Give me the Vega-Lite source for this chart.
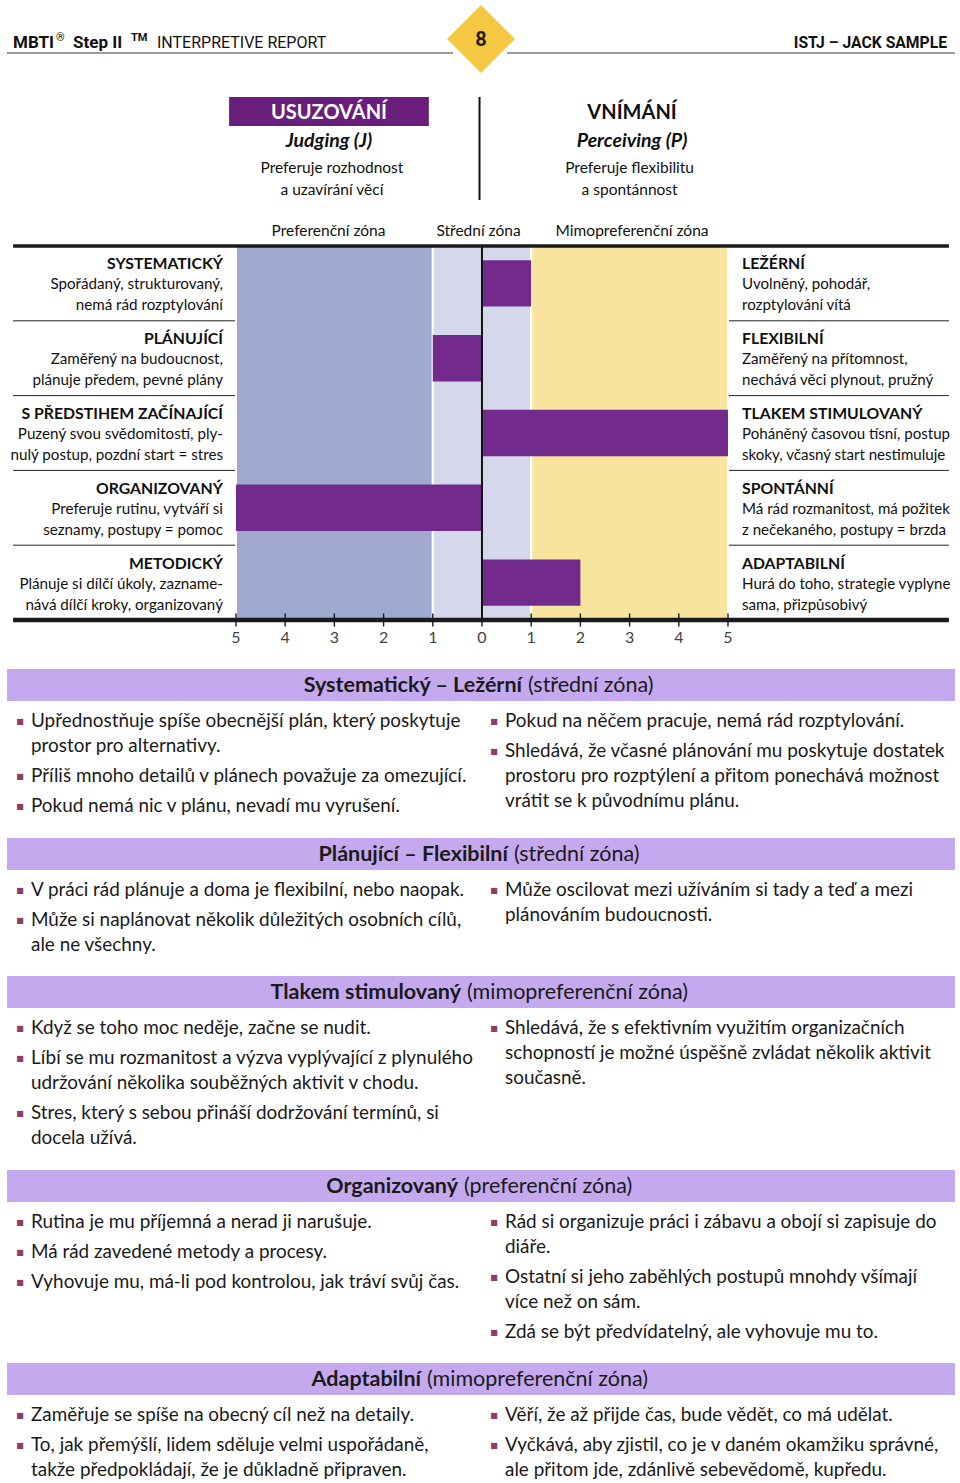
{
"$schema": "https://vega.github.io/schema/vega-lite/v6.json",
"background": "#ffffff",
"padding": {"left": 6, "right": 6, "top": 0, "bottom": 0},
"spacing": 0,
"bounds": "flush",
"config": {"view": {"stroke": null}, "text": {"font": "Lato", "color": "#1a1a1a"}},
"datasets": {
 "header": [
  {"part": "mbti", "text": "MBTI"},
  {"part": "reg", "text": "®"},
  {"part": "step", "text": "Step II"},
  {"part": "tm", "text": "TM"},
  {"part": "report", "text": "INTERPRETIVE REPORT"},
  {"part": "name", "text": "ISTJ – JACK SAMPLE"},
  {"part": "page", "text": "8"}
 ],
 "heads": [
  {"side": "J", "title": "USUZOVÁNÍ", "latin": "Judging (J)", "d1": "Preferuje rozhodnost", "d2": "a uzavírání věcí"},
  {"side": "P", "title": "VNÍMÁNÍ", "latin": "Perceiving (P)", "d1": "Preferuje flexibilitu", "d2": "a spontánnost"}
 ],
 "zones": [
  {"from": -5, "to": -1, "zone": "Preferenční zóna"},
  {"from": -1, "to": 0, "zone": "Střední zóna"},
  {"from": 0, "to": 1, "zone": "Střední zóna"},
  {"from": 1, "to": 5, "zone": "Mimopreferenční zóna"}
 ],
 "ticks": [
  {"v": -5, "label": "5"}, {"v": -4, "label": "4"}, {"v": -3, "label": "3"}, {"v": -2, "label": "2"}, {"v": -1, "label": "1"},
  {"v": 0, "label": "0"},
  {"v": 1, "label": "1"}, {"v": 2, "label": "2"}, {"v": 3, "label": "3"}, {"v": 4, "label": "4"}, {"v": 5, "label": "5"}
 ],
 "rows": [
  {"idx": 1, "left": "SYSTEMATICKÝ", "l1": "Spořádaný, strukturovaný,", "l2": "nemá rád rozptylování", "right": "LEŽÉRNÍ", "r1": "Uvolněný, pohodář,", "r2": "rozptylování vítá", "score": 1},
  {"idx": 2, "left": "PLÁNUJÍCÍ", "l1": "Zaměřený na budoucnost,", "l2": "plánuje předem, pevné plány", "right": "FLEXIBILNÍ", "r1": "Zaměřený na přítomnost,", "r2": "nechává věci plynout, pružný", "score": -1},
  {"idx": 3, "left": "S PŘEDSTIHEM ZAČÍNAJÍCÍ", "l1": "Puzený svou svědomitostí, ply-", "l2": "nulý postup, pozdní start = stres", "right": "TLAKEM STIMULOVANÝ", "r1": "Poháněný časovou tísní, postup", "r2": "skoky, včasný start nestimuluje", "score": 5},
  {"idx": 4, "left": "ORGANIZOVANÝ", "l1": "Preferuje rutinu, vytváří si", "l2": "seznamy, postupy = pomoc", "right": "SPONTÁNNÍ", "r1": "Má rád rozmanitost, má požitek", "r2": "z nečekaného, postupy = brzda", "score": -5},
  {"idx": 5, "left": "METODICKÝ", "l1": "Plánuje si dílčí úkoly, zazname-", "l2": "nává dílčí kroky, organizovaný", "right": "ADAPTABILNÍ", "r1": "Hurá do toho, strategie vyplyne", "r2": "sama, přizpůsobivý", "score": 2}
 ],
 "titles": [
  {"sec": 1, "bold": "Systematický – Ležérní", "rest": "(střední zóna)"},
  {"sec": 2, "bold": "Plánující – Flexibilní", "rest": "(střední zóna)"},
  {"sec": 3, "bold": "Tlakem stimulovaný", "rest": "(mimopreferenční zóna)"},
  {"sec": 4, "bold": "Organizovaný", "rest": "(preferenční zóna)"},
  {"sec": 5, "bold": "Adaptabilní", "rest": "(mimopreferenční zóna)"}
 ],
 "body": [
  {"sec": 1, "col": "L", "line": 0, "para": 0, "bullet": true, "text": "Upřednostňuje spíše obecnější plán, který poskytuje"},
  {"sec": 1, "col": "L", "line": 1, "para": 0, "bullet": false, "text": "prostor pro alternativy."},
  {"sec": 1, "col": "L", "line": 2, "para": 1, "bullet": true, "text": "Příliš mnoho detailů v plánech považuje za omezující."},
  {"sec": 1, "col": "L", "line": 3, "para": 2, "bullet": true, "text": "Pokud nemá nic v plánu, nevadí mu vyrušení."},
  {"sec": 1, "col": "R", "line": 0, "para": 0, "bullet": true, "text": "Pokud na něčem pracuje, nemá rád rozptylování."},
  {"sec": 1, "col": "R", "line": 1, "para": 1, "bullet": true, "text": "Shledává, že včasné plánování mu poskytuje dostatek"},
  {"sec": 1, "col": "R", "line": 2, "para": 1, "bullet": false, "text": "prostoru pro rozptýlení a přitom ponechává možnost"},
  {"sec": 1, "col": "R", "line": 3, "para": 1, "bullet": false, "text": "vrátit se k původnímu plánu."},
  {"sec": 2, "col": "L", "line": 0, "para": 0, "bullet": true, "text": "V práci rád plánuje a doma je flexibilní, nebo naopak."},
  {"sec": 2, "col": "L", "line": 1, "para": 1, "bullet": true, "text": "Může si naplánovat několik důležitých osobních cílů,"},
  {"sec": 2, "col": "L", "line": 2, "para": 1, "bullet": false, "text": "ale ne všechny."},
  {"sec": 2, "col": "R", "line": 0, "para": 0, "bullet": true, "text": "Může oscilovat mezi užíváním si tady a teď a mezi"},
  {"sec": 2, "col": "R", "line": 1, "para": 0, "bullet": false, "text": "plánováním budoucnosti."},
  {"sec": 3, "col": "L", "line": 0, "para": 0, "bullet": true, "text": "Když se toho moc neděje, začne se nudit."},
  {"sec": 3, "col": "L", "line": 1, "para": 1, "bullet": true, "text": "Líbí se mu rozmanitost a výzva vyplývající z plynulého"},
  {"sec": 3, "col": "L", "line": 2, "para": 1, "bullet": false, "text": "udržování několika souběžných aktivit v chodu."},
  {"sec": 3, "col": "L", "line": 3, "para": 2, "bullet": true, "text": "Stres, který s sebou přináší dodržování termínů, si"},
  {"sec": 3, "col": "L", "line": 4, "para": 2, "bullet": false, "text": "docela užívá."},
  {"sec": 3, "col": "R", "line": 0, "para": 0, "bullet": true, "text": "Shledává, že s efektivním využitím organizačních"},
  {"sec": 3, "col": "R", "line": 1, "para": 0, "bullet": false, "text": "schopností je možné úspěšně zvládat několik aktivit"},
  {"sec": 3, "col": "R", "line": 2, "para": 0, "bullet": false, "text": "současně."},
  {"sec": 4, "col": "L", "line": 0, "para": 0, "bullet": true, "text": "Rutina je mu příjemná a nerad ji narušuje."},
  {"sec": 4, "col": "L", "line": 1, "para": 1, "bullet": true, "text": "Má rád zavedené metody a procesy."},
  {"sec": 4, "col": "L", "line": 2, "para": 2, "bullet": true, "text": "Vyhovuje mu, má-li pod kontrolou, jak tráví svůj čas."},
  {"sec": 4, "col": "R", "line": 0, "para": 0, "bullet": true, "text": "Rád si organizuje práci i zábavu a obojí si zapisuje do"},
  {"sec": 4, "col": "R", "line": 1, "para": 0, "bullet": false, "text": "diáře."},
  {"sec": 4, "col": "R", "line": 2, "para": 1, "bullet": true, "text": "Ostatní si jeho zaběhlých postupů mnohdy všímají"},
  {"sec": 4, "col": "R", "line": 3, "para": 1, "bullet": false, "text": "více než on sám."},
  {"sec": 4, "col": "R", "line": 4, "para": 2, "bullet": true, "text": "Zdá se být předvídatelný, ale vyhovuje mu to."},
  {"sec": 5, "col": "L", "line": 0, "para": 0, "bullet": true, "text": "Zaměřuje se spíše na obecný cíl než na detaily."},
  {"sec": 5, "col": "L", "line": 1, "para": 1, "bullet": true, "text": "To, jak přemýšlí, lidem sděluje velmi uspořádaně,"},
  {"sec": 5, "col": "L", "line": 2, "para": 1, "bullet": false, "text": "takže předpokládají, že je důkladně připraven."},
  {"sec": 5, "col": "R", "line": 0, "para": 0, "bullet": true, "text": "Věří, že až přijde čas, bude vědět, co má udělat."},
  {"sec": 5, "col": "R", "line": 1, "para": 1, "bullet": true, "text": "Vyčkává, aby zjistil, co je v daném okamžiku správné,"},
  {"sec": 5, "col": "R", "line": 2, "para": 1, "bullet": false, "text": "ale přitom jde, zdánlivě sebevědomě, kupředu."}
 ]
},
"vconcat": [
 {
  "width": 948, "height": 62,
  "data": {"name": "header"},
  "layer": [
   {"transform": [{"filter": "datum.part == 'page'"}], "mark": {"type": "rule", "color": "#3a3a3a", "strokeWidth": 1},
    "encoding": {"x": {"datum": 0, "type": "quantitative", "scale": {"domain": [0, 1], "nice": false, "zero": false}, "axis": null}, "x2": {"datum": 0.4705},
     "y": {"datum": 0.855, "type": "quantitative", "scale": {"domain": [0, 1], "nice": false, "zero": false, "reverse": true}, "axis": null}}},
   {"transform": [{"filter": "datum.part == 'page'"}], "mark": {"type": "rule", "color": "#3a3a3a", "strokeWidth": 1},
    "encoding": {"x": {"datum": 0.5274, "type": "quantitative", "scale": {"domain": [0, 1], "nice": false, "zero": false}, "axis": null}, "x2": {"datum": 1},
     "y": {"datum": 0.855, "type": "quantitative", "scale": {"domain": [0, 1], "nice": false, "zero": false, "reverse": true}, "axis": null}}},
   {"transform": [{"filter": "datum.part == 'page'"}], "mark": {"type": "point", "shape": "diamond", "filled": true, "color": "#f4c843", "size": 4624, "opacity": 1},
    "encoding": {"y": {"datum": 0.629, "type": "quantitative", "scale": {"domain": [0, 1], "nice": false, "zero": false, "reverse": true}, "axis": null}}},
   {"transform": [{"filter": "datum.part == 'page'"}], "mark": {"type": "text", "font": "Roboto", "fontWeight": "bold", "fontSize": 20, "color": "#222222", "baseline": "alphabetic", "align": "center"},
    "encoding": {"text": {"field": "text"}, "y": {"datum": 0.745, "type": "quantitative", "scale": {"domain": [0, 1], "nice": false, "zero": false, "reverse": true}, "axis": null}}},
   {"transform": [{"filter": "datum.part == 'mbti'"}], "mark": {"type": "text", "align": "left", "baseline": "alphabetic", "font": "Roboto", "fontWeight": "bold", "fontSize": 17, "dx": 6, "color": "#111111"},
    "encoding": {"text": {"field": "text"}, "x": {"datum": 0, "type": "quantitative", "scale": {"domain": [0, 1], "nice": false, "zero": false}, "axis": null},
     "y": {"datum": 0.774, "type": "quantitative", "scale": {"domain": [0, 1], "nice": false, "zero": false, "reverse": true}, "axis": null}}},
   {"transform": [{"filter": "datum.part == 'reg'"}], "mark": {"type": "text", "align": "left", "baseline": "alphabetic", "font": "Roboto", "fontSize": 11, "dx": 49, "color": "#111111"},
    "encoding": {"text": {"field": "text"}, "x": {"datum": 0, "type": "quantitative", "scale": {"domain": [0, 1], "nice": false, "zero": false}, "axis": null},
     "y": {"datum": 0.66, "type": "quantitative", "scale": {"domain": [0, 1], "nice": false, "zero": false, "reverse": true}, "axis": null}}},
   {"transform": [{"filter": "datum.part == 'step'"}], "mark": {"type": "text", "align": "left", "baseline": "alphabetic", "font": "Roboto", "fontWeight": "bold", "fontSize": 17, "dx": 66, "color": "#111111"},
    "encoding": {"text": {"field": "text"}, "x": {"datum": 0, "type": "quantitative", "scale": {"domain": [0, 1], "nice": false, "zero": false}, "axis": null},
     "y": {"datum": 0.774, "type": "quantitative", "scale": {"domain": [0, 1], "nice": false, "zero": false, "reverse": true}, "axis": null}}},
   {"transform": [{"filter": "datum.part == 'tm'"}], "mark": {"type": "text", "align": "left", "baseline": "alphabetic", "font": "Roboto", "fontWeight": "bold", "fontSize": 11, "dx": 124, "color": "#111111"},
    "encoding": {"text": {"field": "text"}, "x": {"datum": 0, "type": "quantitative", "scale": {"domain": [0, 1], "nice": false, "zero": false}, "axis": null},
     "y": {"datum": 0.66, "type": "quantitative", "scale": {"domain": [0, 1], "nice": false, "zero": false, "reverse": true}, "axis": null}}},
   {"transform": [{"filter": "datum.part == 'report'"}], "mark": {"type": "text", "align": "left", "baseline": "alphabetic", "font": "Roboto", "fontSize": 16, "dx": 150, "color": "#111111"},
    "encoding": {"text": {"field": "text"}, "x": {"datum": 0, "type": "quantitative", "scale": {"domain": [0, 1], "nice": false, "zero": false}, "axis": null},
     "y": {"datum": 0.774, "type": "quantitative", "scale": {"domain": [0, 1], "nice": false, "zero": false, "reverse": true}, "axis": null}}},
   {"transform": [{"filter": "datum.part == 'name'"}], "mark": {"type": "text", "align": "right", "baseline": "alphabetic", "font": "Roboto", "fontWeight": "bold", "fontSize": 15.7, "dx": -8, "color": "#111111"},
    "encoding": {"text": {"field": "text"}, "x": {"datum": 1, "type": "quantitative", "scale": {"domain": [0, 1], "nice": false, "zero": false}, "axis": null},
     "y": {"datum": 0.774, "type": "quantitative", "scale": {"domain": [0, 1], "nice": false, "zero": false, "reverse": true}, "axis": null}}}
  ]
 },
 {
  "width": 948, "height": 184,
  "data": {"name": "heads"},
  "layer": [
   {"transform": [{"filter": "datum.side == 'J'"}], "mark": {"type": "rect", "color": "#6a1e7c"},
    "encoding": {"x": {"datum": -5.14, "type": "quantitative", "scale": {"domain": [-9.654, 9.614], "nice": false, "zero": false}, "axis": null}, "x2": {"datum": -1.08},
     "y": {"datum": 0.19, "type": "quantitative", "scale": {"domain": [0, 1], "nice": false, "zero": false, "reverse": true}, "axis": null}, "y2": {"datum": 0.348}}},
   {"transform": [{"filter": "datum.side == 'J'"}], "mark": {"type": "rule", "color": "#111111", "strokeWidth": 2},
    "encoding": {"x": {"datum": -0.05, "type": "quantitative", "scale": {"domain": [-9.654, 9.614], "nice": false, "zero": false}, "axis": null},
     "y": {"datum": 0.19, "type": "quantitative", "scale": {"domain": [0, 1], "nice": false, "zero": false, "reverse": true}, "axis": null}, "y2": {"datum": 0.75}}},
   {"transform": [{"filter": "datum.side == 'J'"}], "mark": {"type": "text", "align": "center", "baseline": "alphabetic", "fontWeight": "bold", "fontSize": 20, "color": "#ffffff"},
    "encoding": {"text": {"field": "title"}, "x": {"datum": -3.11, "type": "quantitative", "scale": {"domain": [-9.654, 9.614], "nice": false, "zero": false}, "axis": null},
     "y": {"datum": 0.31, "type": "quantitative", "scale": {"domain": [0, 1], "nice": false, "zero": false, "reverse": true}, "axis": null}}},
   {"transform": [{"filter": "datum.side == 'P'"}], "mark": {"type": "text", "align": "center", "baseline": "alphabetic", "fontWeight": "bold", "fontSize": 20, "color": "#111111"},
    "encoding": {"text": {"field": "title"}, "x": {"datum": 3.05, "type": "quantitative", "scale": {"domain": [-9.654, 9.614], "nice": false, "zero": false}, "axis": null},
     "y": {"datum": 0.31, "type": "quantitative", "scale": {"domain": [0, 1], "nice": false, "zero": false, "reverse": true}, "axis": null}}},
   {"transform": [{"filter": "datum.side == 'J'"}], "mark": {"type": "text", "align": "center", "baseline": "alphabetic", "fontWeight": "bold", "fontStyle": "italic", "fontSize": 19.5, "color": "#111111"},
    "encoding": {"text": {"field": "latin"}, "x": {"datum": -3.11, "type": "quantitative", "scale": {"domain": [-9.654, 9.614], "nice": false, "zero": false}, "axis": null},
     "y": {"datum": 0.462, "type": "quantitative", "scale": {"domain": [0, 1], "nice": false, "zero": false, "reverse": true}, "axis": null}}},
   {"transform": [{"filter": "datum.side == 'P'"}], "mark": {"type": "text", "align": "center", "baseline": "alphabetic", "fontWeight": "bold", "fontStyle": "italic", "fontSize": 19.5, "color": "#111111"},
    "encoding": {"text": {"field": "latin"}, "x": {"datum": 3.05, "type": "quantitative", "scale": {"domain": [-9.654, 9.614], "nice": false, "zero": false}, "axis": null},
     "y": {"datum": 0.462, "type": "quantitative", "scale": {"domain": [0, 1], "nice": false, "zero": false, "reverse": true}, "axis": null}}},
   {"transform": [{"filter": "datum.side == 'J'"}], "mark": {"type": "text", "align": "center", "baseline": "alphabetic", "fontSize": 15.5, "color": "#111111"},
    "encoding": {"text": {"field": "d1"}, "x": {"datum": -3.05, "type": "quantitative", "scale": {"domain": [-9.654, 9.614], "nice": false, "zero": false}, "axis": null},
     "y": {"datum": 0.603, "type": "quantitative", "scale": {"domain": [0, 1], "nice": false, "zero": false, "reverse": true}, "axis": null}}},
   {"transform": [{"filter": "datum.side == 'J'"}], "mark": {"type": "text", "align": "center", "baseline": "alphabetic", "fontSize": 15.5, "color": "#111111"},
    "encoding": {"text": {"field": "d2"}, "x": {"datum": -3.05, "type": "quantitative", "scale": {"domain": [-9.654, 9.614], "nice": false, "zero": false}, "axis": null},
     "y": {"datum": 0.723, "type": "quantitative", "scale": {"domain": [0, 1], "nice": false, "zero": false, "reverse": true}, "axis": null}}},
   {"transform": [{"filter": "datum.side == 'P'"}], "mark": {"type": "text", "align": "center", "baseline": "alphabetic", "fontSize": 15.5, "color": "#111111"},
    "encoding": {"text": {"field": "d1"}, "x": {"datum": 3.0, "type": "quantitative", "scale": {"domain": [-9.654, 9.614], "nice": false, "zero": false}, "axis": null},
     "y": {"datum": 0.603, "type": "quantitative", "scale": {"domain": [0, 1], "nice": false, "zero": false, "reverse": true}, "axis": null}}},
   {"transform": [{"filter": "datum.side == 'P'"}], "mark": {"type": "text", "align": "center", "baseline": "alphabetic", "fontSize": 15.5, "color": "#111111"},
    "encoding": {"text": {"field": "d2"}, "x": {"datum": 3.0, "type": "quantitative", "scale": {"domain": [-9.654, 9.614], "nice": false, "zero": false}, "axis": null},
     "y": {"datum": 0.723, "type": "quantitative", "scale": {"domain": [0, 1], "nice": false, "zero": false, "reverse": true}, "axis": null}}},
   {"data": {"name": "zones"}, "transform": [{"filter": "datum.from == -5"}], "mark": {"type": "text", "align": "center", "baseline": "alphabetic", "fontSize": 15.5, "color": "#111111"},
    "encoding": {"text": {"field": "zone"}, "x": {"datum": -3.12, "type": "quantitative", "scale": {"domain": [-9.654, 9.614], "nice": false, "zero": false}, "axis": null},
     "y": {"datum": 0.946, "type": "quantitative", "scale": {"domain": [0, 1], "nice": false, "zero": false, "reverse": true}, "axis": null}}},
   {"data": {"name": "zones"}, "transform": [{"filter": "datum.from == -1"}], "mark": {"type": "text", "align": "center", "baseline": "alphabetic", "fontSize": 15.5, "color": "#111111"},
    "encoding": {"text": {"field": "zone"}, "x": {"datum": -0.07, "type": "quantitative", "scale": {"domain": [-9.654, 9.614], "nice": false, "zero": false}, "axis": null},
     "y": {"datum": 0.946, "type": "quantitative", "scale": {"domain": [0, 1], "nice": false, "zero": false, "reverse": true}, "axis": null}}},
   {"data": {"name": "zones"}, "transform": [{"filter": "datum.from == 1"}], "mark": {"type": "text", "align": "center", "baseline": "alphabetic", "fontSize": 15.5, "color": "#111111"},
    "encoding": {"text": {"field": "zone"}, "x": {"datum": 3.05, "type": "quantitative", "scale": {"domain": [-9.654, 9.614], "nice": false, "zero": false}, "axis": null},
     "y": {"datum": 0.946, "type": "quantitative", "scale": {"domain": [0, 1], "nice": false, "zero": false, "reverse": true}, "axis": null}}}
  ]
 },
 {
  "width": 948, "height": 374,
  "data": {"name": "rows"},
  "layer": [
   {"transform": [{"filter": "datum.idx > 1"}], "mark": {"type": "rule", "color": "#222222", "strokeWidth": 1},
    "encoding": {"x": {"datum": -9.53, "type": "quantitative", "scale": {"domain": [-9.654, 9.614], "nice": false, "zero": false}, "axis": null}, "x2": {"datum": 9.49},
     "y": {"field": "idx", "type": "ordinal", "bandPosition": 0, "scale": {"paddingInner": 0, "paddingOuter": 0}, "axis": null}}},
   {"data": {"name": "zones"}, "mark": {"type": "rect", "stroke": "#ffffff", "strokeWidth": 2},
    "encoding": {"x": {"field": "from", "type": "quantitative", "scale": {"domain": [-9.654, 9.614], "nice": false, "zero": false}, "axis": null},
     "x2": {"field": "to"},
     "color": {"field": "zone", "type": "nominal", "scale": {"domain": ["Preferenční zóna", "Střední zóna", "Mimopreferenční zóna"], "range": ["#a0a8cf", "#d4d8ea", "#f8e49d"]}, "legend": null}}},
   {"mark": {"type": "bar", "color": "#722b8c", "height": {"band": 0.62}},
    "encoding": {"x": {"field": "score", "type": "quantitative", "scale": {"domain": [-9.654, 9.614], "nice": false, "zero": false}, "axis": null}, "x2": {"datum": 0},
     "y": {"field": "idx", "type": "ordinal", "scale": {"paddingInner": 0, "paddingOuter": 0}, "axis": null}}},
   {"transform": [{"filter": "datum.idx == 1"}], "mark": {"type": "rule", "color": "#111111", "strokeWidth": 2},
    "encoding": {"x": {"datum": 0, "type": "quantitative", "scale": {"domain": [-9.654, 9.614], "nice": false, "zero": false}, "axis": null}}},
   {"transform": [{"filter": "datum.idx == 1"}], "mark": {"type": "rule", "color": "#1a1a1a", "strokeWidth": 3.5},
    "encoding": {"x": {"datum": -9.53, "type": "quantitative", "scale": {"domain": [-9.654, 9.614], "nice": false, "zero": false}, "axis": null}, "x2": {"datum": 9.49},
     "y": {"field": "idx", "type": "ordinal", "bandPosition": 0, "scale": {"paddingInner": 0, "paddingOuter": 0}, "axis": null}}},
   {"transform": [{"filter": "datum.idx == 5"}], "mark": {"type": "rule", "color": "#1a1a1a", "strokeWidth": 4.5},
    "encoding": {"x": {"datum": -9.53, "type": "quantitative", "scale": {"domain": [-9.654, 9.614], "nice": false, "zero": false}, "axis": null}, "x2": {"datum": 9.49},
     "y": {"field": "idx", "type": "ordinal", "bandPosition": 1, "scale": {"paddingInner": 0, "paddingOuter": 0}, "axis": null}}},
   {"data": {"name": "ticks"}, "mark": {"type": "point", "shape": "M0,-1L0,1", "filled": false, "color": "#1a1a1a", "strokeWidth": 1.4, "size": 169, "opacity": 1},
    "encoding": {"x": {"field": "v", "type": "quantitative", "scale": {"domain": [-9.654, 9.614], "nice": false, "zero": false}, "axis": null},
     "y": {"datum": 5, "type": "ordinal", "bandPosition": 1, "scale": {"paddingInner": 0, "paddingOuter": 0}, "axis": null}}},
   {"data": {"name": "ticks"}, "mark": {"type": "text", "align": "center", "baseline": "top", "fontSize": 16, "dy": 10, "color": "#444444"},
    "encoding": {"text": {"field": "label"}, "x": {"field": "v", "type": "quantitative", "scale": {"domain": [-9.654, 9.614], "nice": false, "zero": false}, "axis": null},
     "y": {"datum": 5, "type": "ordinal", "bandPosition": 1, "scale": {"paddingInner": 0, "paddingOuter": 0}, "axis": null}}},
   {"mark": {"type": "text", "align": "right", "baseline": "alphabetic", "fontWeight": "bold", "fontSize": 15.8, "dx": -13, "dy": -14, "color": "#111111"},
    "encoding": {"text": {"field": "left"}, "x": {"datum": -5, "type": "quantitative", "scale": {"domain": [-9.654, 9.614], "nice": false, "zero": false}, "axis": null},
     "y": {"field": "idx", "type": "ordinal", "scale": {"paddingInner": 0, "paddingOuter": 0}, "axis": null}}},
   {"mark": {"type": "text", "align": "right", "baseline": "alphabetic", "fontSize": 15.2, "dx": -13, "dy": 6, "color": "#111111"},
    "encoding": {"text": {"field": "l1"}, "x": {"datum": -5, "type": "quantitative", "scale": {"domain": [-9.654, 9.614], "nice": false, "zero": false}, "axis": null},
     "y": {"field": "idx", "type": "ordinal", "scale": {"paddingInner": 0, "paddingOuter": 0}, "axis": null}}},
   {"mark": {"type": "text", "align": "right", "baseline": "alphabetic", "fontSize": 15.2, "dx": -13, "dy": 27, "color": "#111111"},
    "encoding": {"text": {"field": "l2"}, "x": {"datum": -5, "type": "quantitative", "scale": {"domain": [-9.654, 9.614], "nice": false, "zero": false}, "axis": null},
     "y": {"field": "idx", "type": "ordinal", "scale": {"paddingInner": 0, "paddingOuter": 0}, "axis": null}}},
   {"mark": {"type": "text", "align": "left", "baseline": "alphabetic", "fontWeight": "bold", "fontSize": 15.8, "dx": 14, "dy": -14, "color": "#111111"},
    "encoding": {"text": {"field": "right"}, "x": {"datum": 5, "type": "quantitative", "scale": {"domain": [-9.654, 9.614], "nice": false, "zero": false}, "axis": null},
     "y": {"field": "idx", "type": "ordinal", "scale": {"paddingInner": 0, "paddingOuter": 0}, "axis": null}}},
   {"mark": {"type": "text", "align": "left", "baseline": "alphabetic", "fontSize": 15.1, "dx": 14, "dy": 6, "color": "#111111"},
    "encoding": {"text": {"field": "r1"}, "x": {"datum": 5, "type": "quantitative", "scale": {"domain": [-9.654, 9.614], "nice": false, "zero": false}, "axis": null},
     "y": {"field": "idx", "type": "ordinal", "scale": {"paddingInner": 0, "paddingOuter": 0}, "axis": null}}},
   {"mark": {"type": "text", "align": "left", "baseline": "alphabetic", "fontSize": 15.1, "dx": 14, "dy": 27, "color": "#111111"},
    "encoding": {"text": {"field": "r2"}, "x": {"datum": 5, "type": "quantitative", "scale": {"domain": [-9.654, 9.614], "nice": false, "zero": false}, "axis": null},
     "y": {"field": "idx", "type": "ordinal", "scale": {"paddingInner": 0, "paddingOuter": 0}, "axis": null}}}
  ]
 },
 {
  "width": 948, "height": 49,
  "data": {"name": "titles"},
  "transform": [{"filter": "datum.sec == 1"}],
  "mark": {"type": "text", "text": ""},
  "encoding": {}
 },
 {
  "width": 948, "height": 32, "data": {"name": "titles"}, "transform": [{"filter": "datum.sec == 1"}],
  "layer": [
   {"mark": {"type": "rect", "color": "#c4a9ef"}, "encoding": {"x": {"datum": 0, "type": "quantitative", "scale": {"domain": [0, 1], "nice": false, "zero": false}, "axis": null}, "x2": {"datum": 1}}},
   {"mark": {"type": "text", "align": "right", "baseline": "alphabetic", "fontWeight": "bold", "fontSize": 21.5, "dx": -3, "dy": 7}, "encoding": {"text": {"field": "bold"}, "x": {"datum": 0.5464, "type": "quantitative", "scale": {"domain": [0, 1], "nice": false, "zero": false}, "axis": null}}},
   {"mark": {"type": "text", "align": "left", "baseline": "alphabetic", "fontSize": 21.5, "dx": 3, "dy": 7}, "encoding": {"text": {"field": "rest"}, "x": {"datum": 0.5464, "type": "quantitative", "scale": {"domain": [0, 1], "nice": false, "zero": false}, "axis": null}}}
  ]
 },
 {
  "width": 948, "height": 137, "data": {"name": "body"}, "transform": [{"filter": "datum.sec == 1"}],
  "encoding": {
   "x": {"field": "col", "type": "nominal", "bandPosition": 0, "scale": {"type": "band", "domain": ["L", "R"], "paddingInner": 0, "paddingOuter": 0}, "axis": null},
   "y": {"field": "line", "type": "quantitative", "scale": {"domain": [0, 5.48], "reverse": true, "nice": false, "zero": false}, "axis": null}
  },
  "layer": [
   {"transform": [{"filter": "datum.para == 0"}], "mark": {"type": "text", "align": "left", "baseline": "alphabetic", "fontSize": 18.9, "dx": 24, "dy": 25.5}, "encoding": {"text": {"field": "text"}}},
   {"transform": [{"filter": "datum.para == 1"}], "mark": {"type": "text", "align": "left", "baseline": "alphabetic", "fontSize": 18.9, "dx": 24, "dy": 30.5}, "encoding": {"text": {"field": "text"}}},
   {"transform": [{"filter": "datum.para == 2"}], "mark": {"type": "text", "align": "left", "baseline": "alphabetic", "fontSize": 18.9, "dx": 24, "dy": 35.5}, "encoding": {"text": {"field": "text"}}},
   {"transform": [{"filter": "datum.bullet && datum.para == 0"}], "mark": {"type": "text", "text": "■", "font": "DejaVu Sans", "align": "center", "baseline": "alphabetic", "fontSize": 8, "color": "#8e3b70", "dx": 13, "dy": 22.5}, "encoding": {}},
   {"transform": [{"filter": "datum.bullet && datum.para == 1"}], "mark": {"type": "text", "text": "■", "font": "DejaVu Sans", "align": "center", "baseline": "alphabetic", "fontSize": 8, "color": "#8e3b70", "dx": 13, "dy": 27.5}, "encoding": {}},
   {"transform": [{"filter": "datum.bullet && datum.para == 2"}], "mark": {"type": "text", "text": "■", "font": "DejaVu Sans", "align": "center", "baseline": "alphabetic", "fontSize": 8, "color": "#8e3b70", "dx": 13, "dy": 32.5}, "encoding": {}}
  ]
 },
 {
  "width": 948, "height": 32, "data": {"name": "titles"}, "transform": [{"filter": "datum.sec == 2"}],
  "layer": [
   {"mark": {"type": "rect", "color": "#c4a9ef"}, "encoding": {"x": {"datum": 0, "type": "quantitative", "scale": {"domain": [0, 1], "nice": false, "zero": false}, "axis": null}, "x2": {"datum": 1}}},
   {"mark": {"type": "text", "align": "right", "baseline": "alphabetic", "fontWeight": "bold", "fontSize": 21.5, "dx": -3, "dy": 7}, "encoding": {"text": {"field": "bold"}, "x": {"datum": 0.5316, "type": "quantitative", "scale": {"domain": [0, 1], "nice": false, "zero": false}, "axis": null}}},
   {"mark": {"type": "text", "align": "left", "baseline": "alphabetic", "fontSize": 21.5, "dx": 3, "dy": 7}, "encoding": {"text": {"field": "rest"}, "x": {"datum": 0.5316, "type": "quantitative", "scale": {"domain": [0, 1], "nice": false, "zero": false}, "axis": null}}}
  ]
 },
 {
  "width": 948, "height": 106, "data": {"name": "body"}, "transform": [{"filter": "datum.sec == 2"}],
  "encoding": {
   "x": {"field": "col", "type": "nominal", "bandPosition": 0, "scale": {"type": "band", "domain": ["L", "R"], "paddingInner": 0, "paddingOuter": 0}, "axis": null},
   "y": {"field": "line", "type": "quantitative", "scale": {"domain": [0, 4.24], "reverse": true, "nice": false, "zero": false}, "axis": null}
  },
  "layer": [
   {"transform": [{"filter": "datum.para == 0"}], "mark": {"type": "text", "align": "left", "baseline": "alphabetic", "fontSize": 18.9, "dx": 24, "dy": 25.5}, "encoding": {"text": {"field": "text"}}},
   {"transform": [{"filter": "datum.para == 1"}], "mark": {"type": "text", "align": "left", "baseline": "alphabetic", "fontSize": 18.9, "dx": 24, "dy": 30.5}, "encoding": {"text": {"field": "text"}}},
   {"transform": [{"filter": "datum.para == 2"}], "mark": {"type": "text", "align": "left", "baseline": "alphabetic", "fontSize": 18.9, "dx": 24, "dy": 35.5}, "encoding": {"text": {"field": "text"}}},
   {"transform": [{"filter": "datum.bullet && datum.para == 0"}], "mark": {"type": "text", "text": "■", "font": "DejaVu Sans", "align": "center", "baseline": "alphabetic", "fontSize": 8, "color": "#8e3b70", "dx": 13, "dy": 22.5}, "encoding": {}},
   {"transform": [{"filter": "datum.bullet && datum.para == 1"}], "mark": {"type": "text", "text": "■", "font": "DejaVu Sans", "align": "center", "baseline": "alphabetic", "fontSize": 8, "color": "#8e3b70", "dx": 13, "dy": 27.5}, "encoding": {}},
   {"transform": [{"filter": "datum.bullet && datum.para == 2"}], "mark": {"type": "text", "text": "■", "font": "DejaVu Sans", "align": "center", "baseline": "alphabetic", "fontSize": 8, "color": "#8e3b70", "dx": 13, "dy": 32.5}, "encoding": {}}
  ]
 },
 {
  "width": 948, "height": 32, "data": {"name": "titles"}, "transform": [{"filter": "datum.sec == 3"}],
  "layer": [
   {"mark": {"type": "rect", "color": "#c4a9ef"}, "encoding": {"x": {"datum": 0, "type": "quantitative", "scale": {"domain": [0, 1], "nice": false, "zero": false}, "axis": null}, "x2": {"datum": 1}}},
   {"mark": {"type": "text", "align": "right", "baseline": "alphabetic", "fontWeight": "bold", "fontSize": 21.5, "dx": -3, "dy": 7}, "encoding": {"text": {"field": "bold"}, "x": {"datum": 0.4821, "type": "quantitative", "scale": {"domain": [0, 1], "nice": false, "zero": false}, "axis": null}}},
   {"mark": {"type": "text", "align": "left", "baseline": "alphabetic", "fontSize": 21.5, "dx": 3, "dy": 7}, "encoding": {"text": {"field": "rest"}, "x": {"datum": 0.4821, "type": "quantitative", "scale": {"domain": [0, 1], "nice": false, "zero": false}, "axis": null}}}
  ]
 },
 {
  "width": 948, "height": 162, "data": {"name": "body"}, "transform": [{"filter": "datum.sec == 3"}],
  "encoding": {
   "x": {"field": "col", "type": "nominal", "bandPosition": 0, "scale": {"type": "band", "domain": ["L", "R"], "paddingInner": 0, "paddingOuter": 0}, "axis": null},
   "y": {"field": "line", "type": "quantitative", "scale": {"domain": [0, 6.48], "reverse": true, "nice": false, "zero": false}, "axis": null}
  },
  "layer": [
   {"transform": [{"filter": "datum.para == 0"}], "mark": {"type": "text", "align": "left", "baseline": "alphabetic", "fontSize": 18.9, "dx": 24, "dy": 25.5}, "encoding": {"text": {"field": "text"}}},
   {"transform": [{"filter": "datum.para == 1"}], "mark": {"type": "text", "align": "left", "baseline": "alphabetic", "fontSize": 18.9, "dx": 24, "dy": 30.5}, "encoding": {"text": {"field": "text"}}},
   {"transform": [{"filter": "datum.para == 2"}], "mark": {"type": "text", "align": "left", "baseline": "alphabetic", "fontSize": 18.9, "dx": 24, "dy": 35.5}, "encoding": {"text": {"field": "text"}}},
   {"transform": [{"filter": "datum.bullet && datum.para == 0"}], "mark": {"type": "text", "text": "■", "font": "DejaVu Sans", "align": "center", "baseline": "alphabetic", "fontSize": 8, "color": "#8e3b70", "dx": 13, "dy": 22.5}, "encoding": {}},
   {"transform": [{"filter": "datum.bullet && datum.para == 1"}], "mark": {"type": "text", "text": "■", "font": "DejaVu Sans", "align": "center", "baseline": "alphabetic", "fontSize": 8, "color": "#8e3b70", "dx": 13, "dy": 27.5}, "encoding": {}},
   {"transform": [{"filter": "datum.bullet && datum.para == 2"}], "mark": {"type": "text", "text": "■", "font": "DejaVu Sans", "align": "center", "baseline": "alphabetic", "fontSize": 8, "color": "#8e3b70", "dx": 13, "dy": 32.5}, "encoding": {}}
  ]
 },
 {
  "width": 948, "height": 32, "data": {"name": "titles"}, "transform": [{"filter": "datum.sec == 4"}],
  "layer": [
   {"mark": {"type": "rect", "color": "#c4a9ef"}, "encoding": {"x": {"datum": 0, "type": "quantitative", "scale": {"domain": [0, 1], "nice": false, "zero": false}, "axis": null}, "x2": {"datum": 1}}},
   {"mark": {"type": "text", "align": "right", "baseline": "alphabetic", "fontWeight": "bold", "fontSize": 21.5, "dx": -3, "dy": 7}, "encoding": {"text": {"field": "bold"}, "x": {"datum": 0.4789, "type": "quantitative", "scale": {"domain": [0, 1], "nice": false, "zero": false}, "axis": null}}},
   {"mark": {"type": "text", "align": "left", "baseline": "alphabetic", "fontSize": 21.5, "dx": 3, "dy": 7}, "encoding": {"text": {"field": "rest"}, "x": {"datum": 0.4789, "type": "quantitative", "scale": {"domain": [0, 1], "nice": false, "zero": false}, "axis": null}}}
  ]
 },
 {
  "width": 948, "height": 161, "data": {"name": "body"}, "transform": [{"filter": "datum.sec == 4"}],
  "encoding": {
   "x": {"field": "col", "type": "nominal", "bandPosition": 0, "scale": {"type": "band", "domain": ["L", "R"], "paddingInner": 0, "paddingOuter": 0}, "axis": null},
   "y": {"field": "line", "type": "quantitative", "scale": {"domain": [0, 6.44], "reverse": true, "nice": false, "zero": false}, "axis": null}
  },
  "layer": [
   {"transform": [{"filter": "datum.para == 0"}], "mark": {"type": "text", "align": "left", "baseline": "alphabetic", "fontSize": 18.9, "dx": 24, "dy": 25.5}, "encoding": {"text": {"field": "text"}}},
   {"transform": [{"filter": "datum.para == 1"}], "mark": {"type": "text", "align": "left", "baseline": "alphabetic", "fontSize": 18.9, "dx": 24, "dy": 30.5}, "encoding": {"text": {"field": "text"}}},
   {"transform": [{"filter": "datum.para == 2"}], "mark": {"type": "text", "align": "left", "baseline": "alphabetic", "fontSize": 18.9, "dx": 24, "dy": 35.5}, "encoding": {"text": {"field": "text"}}},
   {"transform": [{"filter": "datum.bullet && datum.para == 0"}], "mark": {"type": "text", "text": "■", "font": "DejaVu Sans", "align": "center", "baseline": "alphabetic", "fontSize": 8, "color": "#8e3b70", "dx": 13, "dy": 22.5}, "encoding": {}},
   {"transform": [{"filter": "datum.bullet && datum.para == 1"}], "mark": {"type": "text", "text": "■", "font": "DejaVu Sans", "align": "center", "baseline": "alphabetic", "fontSize": 8, "color": "#8e3b70", "dx": 13, "dy": 27.5}, "encoding": {}},
   {"transform": [{"filter": "datum.bullet && datum.para == 2"}], "mark": {"type": "text", "text": "■", "font": "DejaVu Sans", "align": "center", "baseline": "alphabetic", "fontSize": 8, "color": "#8e3b70", "dx": 13, "dy": 32.5}, "encoding": {}}
  ]
 },
 {
  "width": 948, "height": 32, "data": {"name": "titles"}, "transform": [{"filter": "datum.sec == 5"}],
  "layer": [
   {"mark": {"type": "rect", "color": "#c4a9ef"}, "encoding": {"x": {"datum": 0, "type": "quantitative", "scale": {"domain": [0, 1], "nice": false, "zero": false}, "axis": null}, "x2": {"datum": 1}}},
   {"mark": {"type": "text", "align": "right", "baseline": "alphabetic", "fontWeight": "bold", "fontSize": 21.5, "dx": -3, "dy": 7}, "encoding": {"text": {"field": "bold"}, "x": {"datum": 0.4399, "type": "quantitative", "scale": {"domain": [0, 1], "nice": false, "zero": false}, "axis": null}}},
   {"mark": {"type": "text", "align": "left", "baseline": "alphabetic", "fontSize": 21.5, "dx": 3, "dy": 7}, "encoding": {"text": {"field": "rest"}, "x": {"datum": 0.4399, "type": "quantitative", "scale": {"domain": [0, 1], "nice": false, "zero": false}, "axis": null}}}
  ]
 },
 {
  "width": 948, "height": 88, "data": {"name": "body"}, "transform": [{"filter": "datum.sec == 5"}],
  "encoding": {
   "x": {"field": "col", "type": "nominal", "bandPosition": 0, "scale": {"type": "band", "domain": ["L", "R"], "paddingInner": 0, "paddingOuter": 0}, "axis": null},
   "y": {"field": "line", "type": "quantitative", "scale": {"domain": [0, 3.52], "reverse": true, "nice": false, "zero": false}, "axis": null}
  },
  "layer": [
   {"transform": [{"filter": "datum.para == 0"}], "mark": {"type": "text", "align": "left", "baseline": "alphabetic", "fontSize": 18.9, "dx": 24, "dy": 25.5}, "encoding": {"text": {"field": "text"}}},
   {"transform": [{"filter": "datum.para == 1"}], "mark": {"type": "text", "align": "left", "baseline": "alphabetic", "fontSize": 18.9, "dx": 24, "dy": 30.5}, "encoding": {"text": {"field": "text"}}},
   {"transform": [{"filter": "datum.para == 2"}], "mark": {"type": "text", "align": "left", "baseline": "alphabetic", "fontSize": 18.9, "dx": 24, "dy": 35.5}, "encoding": {"text": {"field": "text"}}},
   {"transform": [{"filter": "datum.bullet && datum.para == 0"}], "mark": {"type": "text", "text": "■", "font": "DejaVu Sans", "align": "center", "baseline": "alphabetic", "fontSize": 8, "color": "#8e3b70", "dx": 13, "dy": 22.5}, "encoding": {}},
   {"transform": [{"filter": "datum.bullet && datum.para == 1"}], "mark": {"type": "text", "text": "■", "font": "DejaVu Sans", "align": "center", "baseline": "alphabetic", "fontSize": 8, "color": "#8e3b70", "dx": 13, "dy": 27.5}, "encoding": {}},
   {"transform": [{"filter": "datum.bullet && datum.para == 2"}], "mark": {"type": "text", "text": "■", "font": "DejaVu Sans", "align": "center", "baseline": "alphabetic", "fontSize": 8, "color": "#8e3b70", "dx": 13, "dy": 32.5}, "encoding": {}}
  ]
 }
]
}
